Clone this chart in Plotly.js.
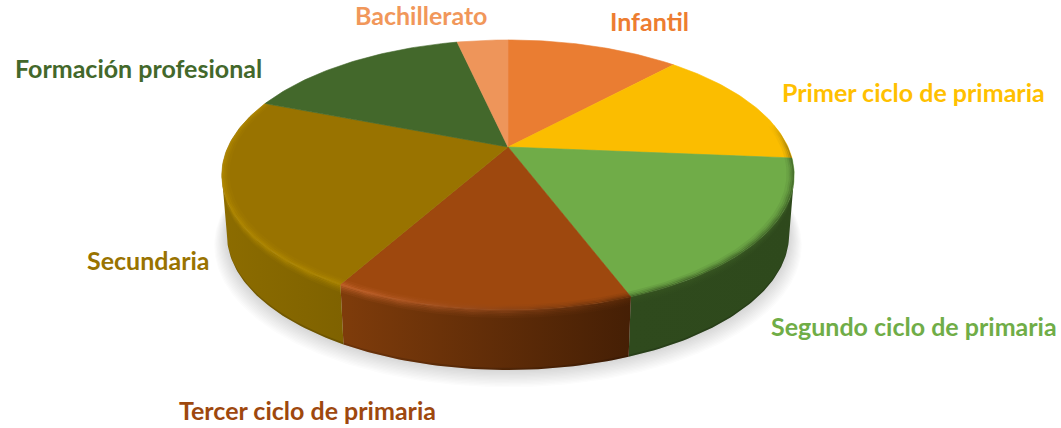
<!DOCTYPE html>
<html><head><meta charset="utf-8">
<script src="https://cdn.plot.ly/plotly-3.0.1.min.js"></script>
<style>html,body{margin:0;padding:0;background:#fff}#c{width:1061px;height:428px}text{font-variant-ligatures:none}</style>
</head><body><div id="c"></div>
<script>
// Data: share of each stage, clockwise from 12 o'clock
const categories = ["Infantil","Primer ciclo de primaria","Segundo ciclo de primaria","Tercer ciclo de primaria","Secundaria","Formación profesional","Bachillerato"];
const shares = [11.9,14.4,17.9,13.9,22.7,15.6,3.5];
// Styles
const topColors = ["#EA7D32","#FBBD00","#70AC48","#9E480E","#997300","#43682B","#EE955A"];
const labelColors = ["#ED7D31","#FFC000","#70AD47","#9E480E","#997300","#43682B","#F1975A"];
const sideLeft = ["#8f4a16","#8f6d00","#2f4a1d","#7f3c0b","#8c6c00","#2c441c","#8a5530"];
const sideRight = ["#8f4a16","#8f6d00","#2e491c","#451f05","#7f6200","#2c441c","#8a5530"];
const rimLeft = ["#EA7D32","#FBBD00","#35521F","#c9652c","#b38a00","#43682B","#EE955A"];
const rimRight = ["#EA7D32","#7a6410","#3c5e25","#5a2907","#ad8600","#43682B","#EE955A"];
const labelX = [649,913,914,307,148,138,421];
const labelY = [21,92,326,410,260,68,15];

// Projection of the tilted disc onto the plot's axes
const G = {cx:508,cy:147,rx:280,ry:129.2,k:0.207,depth:60};
function P(r,deg,z){
  const t=deg*Math.PI/180,u=Math.sin(t)*r,v=-Math.cos(t)*r,w=1-G.k*v,s=1-0.018*z/G.depth;
  return [G.cx+G.rx*u/w*s, G.cy+G.ry*v/w+z];
}
function arc(a,b,r,z){const o=[];const n=Math.max(2,Math.ceil(Math.abs(b-a)));for(let i=0;i<=n;i++)o.push(P(r,a+(b-a)*i/n,z));return o;}
function poly(pts,extra){return Object.assign({x:pts.map(p=>p[0]),y:pts.map(p=>p[1]),type:"scatter",mode:"lines",fill:"toself",line:{width:0},hoverinfo:"skip",showlegend:false},extra);}
function band(a,b,r1,z1,r2,z2,cl,cr,op){
  if(b<=a)return null;
  return poly(arc(a,b,r1,z1).concat(arc(b,a,r2,z2)).concat([P(r1,a,z1)]),{opacity:op,fillcolor:cl,fillgradient:{type:"horizontal",colorscale:[[0,cl],[1,cr]]}});
}
const total=shares.reduce((a,b)=>a+b,0);
let acc=0;const spans=shares.map(s=>{const a=acc/total*360;acc+=s;return [a,acc/total*360];});
const traces=[];
// soft shadow
for(let i=0;i<14;i++){
  traces.push(poly(arc(0,360,1+0.0035*i,60+i*0.6),{fillcolor:"rgba(70,70,70,0.016)"}));
}
// sides
spans.forEach((sp,i)=>{
  const a=Math.max(sp[0],102),b=Math.min(sp[1],258);
  const t=band(a,b,1,0,1,G.depth,sideLeft[i],sideRight[i],1);
  if(t)traces.push(t);
});
spans.forEach((sp,i)=>{
  const a=Math.max(sp[0],102),b=Math.min(sp[1],258);
  const t=band(a,b,1,G.depth-2,1,G.depth,"#000","#000",0.15);
  if(t)traces.push(t);
});
// top faces
spans.forEach((sp,i)=>{
  const pts=[[G.cx,G.cy]].concat(arc(sp[0],sp[1],1,0)).concat([[G.cx,G.cy]]);
  traces.push(poly(pts,{fillcolor:topColors[i],line:{width:0.6,color:topColors[i]}}));
});
// bevel on the rim: thin strips ramp in and out so the edge reads as a soft blur
const faceStrips=[[0.974,0.982,0.12],[0.982,0.988,0.28],[0.988,0.994,0.5],[0.994,1,0.75]];
const sideStrips=[[0,1.5,0.8],[1.5,3,0.6],[3,4.5,0.4],[4.5,6,0.25],[6,8,0.12]];
spans.forEach((sp,i)=>{
  const a=Math.max(sp[0],80),b=Math.min(sp[1],292);
  faceStrips.forEach(s=>{const t=band(a,b,s[0],0,s[1],0,rimLeft[i],rimRight[i],s[2]);if(t)traces.push(t);});
  const a2=Math.max(sp[0],102),b2=Math.min(sp[1],258);
  sideStrips.forEach(s=>{const t=band(a2,b2,1,s[0],1,s[1],rimLeft[i],rimRight[i],s[2]);if(t)traces.push(t);});
});
const annotations=categories.map((c,i)=>({text:c,x:labelX[i],y:labelY[i],xref:"x",yref:"y",xanchor:"center",yanchor:"middle",showarrow:false,
  font:{family:"Lato, 'Open Sans', sans-serif",size:25,weight:700,color:labelColors[i]}}));
Plotly.newPlot("c",traces,{
  width:1061,height:428,margin:{l:0,r:0,t:0,b:0},paper_bgcolor:"#fff",plot_bgcolor:"#fff",showlegend:false,
  xaxis:{range:[0,1061],visible:false,fixedrange:true},
  yaxis:{range:[428,0],visible:false,fixedrange:true},
  annotations
},{displayModeBar:false,staticPlot:true});
</script></body></html>
